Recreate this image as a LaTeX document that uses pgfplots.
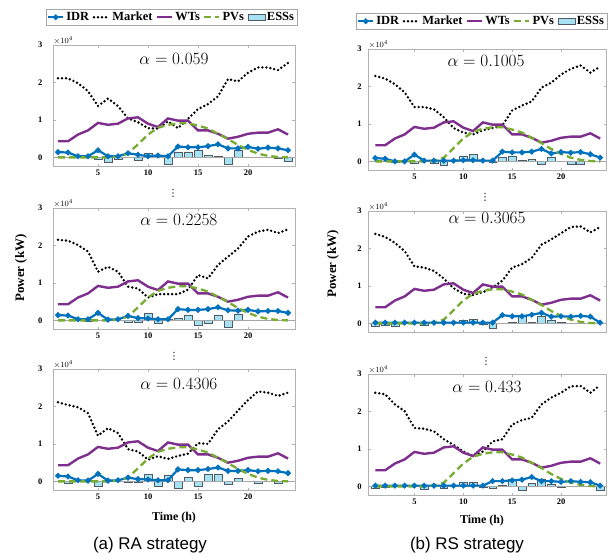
\documentclass[border=0pt]{standalone}
\usepackage{pgfplots}
\pgfplotsset{compat=1.18}
\usepackage{pgfplotstable}
\usepackage{fontspec}
\setmainfont{Liberation Serif}
\newfontfamily\capfont{Liberation Sans}
\newfontfamily\dejavu{DejaVu Sans}

\definecolor{idrc}{RGB}{0,114,189}
\definecolor{wtc}{RGB}{126,47,142}
\definecolor{pvc}{RGB}{119,172,48}
\definecolor{essc}{RGB}{166,226,242}
\definecolor{essd}{RGB}{80,90,100}

% common wind / PV profile (kW)
\pgfplotstableread{
h wt pv
1 4300 0
2 4300 0
3 6100 0
4 7200 0
5 9200 0
6 8700 0
7 9000 200
8 10400 1000
9 10700 3500
10 9000 6100
11 8100 7900
12 10400 8700
13 9800 9100
14 9800 9100
15 7200 8500
16 7200 7700
17 6300 6300
18 5000 4900
19 5500 3300
20 6300 2000
21 6600 1000
22 6600 400
23 7500 100
24 6100 0
}\tabCommon

% (a) RA, alpha = 0.059
\pgfplotstableread{
h idr mkt ess
1 1400 21100 0
2 1300 21100 0
3 300 19800 0
4 300 17700 0
5 1900 13700 -500
6 300 15700 -1200
7 300 13700 -500
8 1100 10400 0
9 700 9400 -700
10 300 7800 1100
11 500 7700 700
12 300 9600 -1700
13 2900 7800 1300
14 2700 10300 1300
15 2700 12900 1900
16 3000 14200 500
17 3500 16300 300
18 2400 20900 -1900
19 2400 20300 1900
20 2800 22600 0
21 2300 24000 0
22 2600 24000 0
23 2400 23300 -200
24 1900 25200 -1000
}\tabLa

% (a) RA, alpha = 0.2258
\pgfplotstableread{
h idr mkt ess
1 1400 21500 0
2 1300 21300 0
3 300 20100 0
4 300 18400 -300
5 2000 13000 0
6 200 14300 0
7 300 13000 0
8 1200 9000 -500
9 600 8500 -500
10 500 6100 1800
11 300 7000 -700
12 300 7000 400
13 3000 7000 500
14 2800 8200 1500
15 2800 12100 -1300
16 3000 11200 -800
17 3500 14800 1300
18 2700 17000 -1700
19 2600 19200 1700
20 2800 22400 0
21 2400 23700 0
22 2500 24200 0
23 2500 23300 0
24 2000 24300 0
}\tabLb

% (a) RA, alpha = 0.4306
\pgfplotstableread{
h idr mkt ess
1 1500 21100 0
2 1300 20400 -500
3 300 19800 0
4 200 18200 0
5 2000 12200 -1300
6 200 14200 0
7 300 12900 0
8 1000 8600 -300
9 600 8000 -300
10 500 5800 1900
11 300 6700 -1200
12 300 6000 1700
13 3200 6800 -1700
14 3000 7400 1000
15 3000 10200 -1200
16 3300 10000 2000
17 3700 13900 2000
18 2800 16000 -800
19 2800 18900 800
20 3000 21700 0
21 2700 24000 -400
22 2800 23700 0
23 2700 22800 -500
24 2200 23700 0
}\tabLc

% (b) RS, alpha = 0.1005
\pgfplotstableread{
h idr mkt ess
1 900 22800 0
2 700 22100 0
3 0 20600 -300
4 0 18400 0
5 1800 14500 -600
6 200 14500 0
7 200 13900 -500
8 200 11800 -900
9 200 8900 0
10 300 7700 1500
11 300 7200 1800
12 200 8300 0
13 200 8900 -300
14 2600 9600 1000
15 2400 13600 1300
16 2400 14900 200
17 2600 16000 500
18 3300 19700 -800
19 2100 21000 1200
20 2500 23200 0
21 2300 24700 -700
22 2500 25600 -700
23 1900 23700 0
24 1000 25300 0
}\tabRa

% (b) RS, alpha = 0.3065
\pgfplotstableread{
h idr mkt ess
1 200 23900 -800
2 200 23100 -400
3 200 21500 -800
4 200 19300 0
5 200 15200 0
6 200 14900 -500
7 200 14000 0
8 200 12000 0
9 200 9400 0
10 200 7900 800
11 200 7600 1000
12 200 8300 -300
13 200 9600 -1200
14 2200 11400 0
15 1900 14900 300
16 1900 15800 2000
17 2300 17500 300
18 2800 21000 1800
19 1800 22400 800
20 1900 24100 200
21 1800 25700 0
22 2000 25900 0
23 1800 24300 0
24 200 25700 0
}\tabRb

% (b) RS, alpha = 0.433
\pgfplotstableread{
h idr mkt ess
1 200 25000 -500
2 200 24600 -300
3 200 21900 0
4 200 20100 0
5 200 15600 0
6 200 15400 -800
7 200 14700 0
8 200 12600 -500
9 200 11100 0
10 200 9300 1200
11 200 8100 1000
12 200 9300 -300
13 1400 12000 -500
14 1400 12600 300
15 1600 16500 2000
16 1800 17700 -900
17 2500 18300 900
18 1400 21900 2000
19 1400 23700 600
20 1200 25000 -300
21 1400 26700 0
22 1200 26800 0
23 1100 25000 0
24 200 27000 -1000
}\tabRc

\pgfplotsset{
  basep/.style={
    scale only axis, height=121bp, anchor=north west,
    ymin=-2300, ymax=30000,
    ytick={0,10000,20000,30000}, yticklabels={0,1,2,3},
    scaled y ticks=false,
    xtick={5,10,15,20},
    tick align=inside,
    axis line style={draw=gray!60, line width=0.6bp},
    major tick length=2.5bp,
    tick style={gray!60, line width=0.5bp},
    ticklabel style={font=\bfseries\fontsize{8.5}{9}\selectfont},
    /pgf/number format/assume math mode=true,
    legend entries={IDR,Market,WTs,PVs,ESSs},
    legend image code/.code={\draw[mark repeat=2,mark phase=2,##1] plot coordinates {(0bp,0bp) (7.5bp,0bp) (15bp,0bp)};},
    after end axis/.code={\node[anchor=south west, inner sep=0.5bp] at (rel axis cs:0,1) {\fontsize{8}{9}\selectfont $\times 10^{4}$};},
  },
  leftp/.style={basep, width=242bp, xmin=0.5, xmax=24.7, yticklabel style={xshift=-7bp}},
  rightp/.style={basep, width=238bp, xmin=0.25, xmax=24.6, yticklabel style={xshift=-3bp}},
  nolegend/.style={legend entries={}},
  idr/.style={idrc, line width=2.2bp, mark=*, mark size=1.6bp},
  mkt/.style={black, line width=2.7bp, line cap=round, dash pattern=on 0bp off 4bp},
  wt/.style={wtc, line width=2.4bp},
  pv/.style={pvc, line width=2.3bp, dash pattern=on 7bp off 4bp},
  legstyle/.style={legend style={at={(#1,1)}, anchor=south, yshift=19.5bp, legend columns=5,
     font=\bfseries\fontsize{12.5}{13}\selectfont, draw=gray!70, inner sep=1bp,
     /tikz/every even column/.style={column sep=1.5bp}, /tikz/every odd column/.style={column sep=0bp}}},
}

\newcommand{\panelplots}[1]{%
  \addplot[ybar, bar width=0.8, fill=essc, draw=essd, line width=0.4bp, forget plot] table[x=h,y=ess]{#1};
  \addplot[gray!70, line width=0.5bp, forget plot] coordinates {(0,0) (25,0)};
  \addplot[idr] table[x=h,y=idr]{#1};
  \addplot[mkt] table[x=h,y=mkt]{#1};
  \addplot[wt] table[x=h,y=wt]{\tabCommon};
  \addplot[pv] table[x=h,y=pv]{\tabCommon};
}
\newcommand{\alphalab}[3]{\node at (rel axis cs:#1,#2) {\fontsize{18}{20}\selectfont $\alpha = #3$};}

\begin{document}
\begin{tikzpicture}
\useasboundingbox (0,0) rectangle (610bp,-558bp);

% ---------- (a) RA strategy ----------
\begin{axis}[leftp, at={(53bp,-45bp)}, legstyle=0.49]
\panelplots{\tabLa}
\addlegendimage{area legend, fill=essc, draw=essd}
\alphalab{0.5}{0.886}{0.059}
\end{axis}
\begin{axis}[leftp, at={(53bp,-208bp)}, nolegend]
\panelplots{\tabLb}
\alphalab{0.52}{0.90}{0.2258}
\end{axis}
\begin{axis}[leftp, at={(53bp,-369bp)}, nolegend]
\panelplots{\tabLc}
\alphalab{0.52}{0.876}{0.4306}
\end{axis}

% ---------- (b) RS strategy ----------
\begin{axis}[rightp, at={(368bp,-49bp)}, legstyle=0.477]
\panelplots{\tabRa}
\addlegendimage{area legend, fill=essc, draw=essd}
\alphalab{0.496}{0.90}{0.1005}
\end{axis}
\begin{axis}[rightp, at={(368bp,-211bp)}, nolegend, xticklabels={}]
\panelplots{\tabRb}
\alphalab{0.5}{0.945}{0.3065}
\end{axis}
\begin{axis}[rightp, at={(368bp,-374bp)}, nolegend]
\panelplots{\tabRc}
\alphalab{0.5}{0.89}{0.433}
\end{axis}

% ---------- labels ----------
\node[rotate=90, font=\bfseries\fontsize{13}{14}\selectfont] at (21bp,-268bp) {Power (kW)};
\node[rotate=90, font=\bfseries\fontsize{13}{14}\selectfont] at (333bp,-264bp) {Power (kW)};
\node[font=\bfseries\fontsize{12}{13}\selectfont] at (174bp,-518bp) {Time (h)};
\node[font=\bfseries\fontsize{12}{13}\selectfont] at (482bp,-521bp) {Time (h)};
\node[font=\capfont\fontsize{17}{19}\selectfont] at (150bp,-545bp) {(a) RA strategy};
\node[font=\capfont\fontsize{17}{19}\selectfont] at (467bp,-545bp) {(b) RS strategy};
\node[inner sep=0pt, font=\dejavu\fontsize{10}{11}\selectfont] at (173bp,-193bp) {⋮};
\node[inner sep=0pt, font=\dejavu\fontsize{10}{11}\selectfont] at (174bp,-356bp) {⋮};
\node[inner sep=0pt, font=\dejavu\fontsize{10}{11}\selectfont] at (485bp,-197bp) {⋮};
\node[inner sep=0pt, font=\dejavu\fontsize{10}{11}\selectfont] at (486bp,-361bp) {⋮};
\end{tikzpicture}
\end{document}
